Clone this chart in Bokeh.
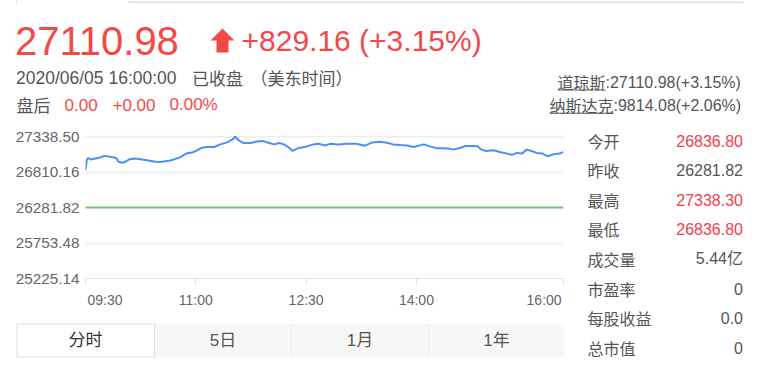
from bokeh.plotting import figure
from bokeh.layouts import column, row
from bokeh.models import FixedTicker, NumeralTickFormatter, Range1d, Span
from bokeh.core.properties import value
from bokeh.embed import file_html
from bokeh.resources import INLINE

# ---------------- data ----------------
minutes = [0, 1, 2, 4, 8, 12, 15, 18, 21, 25, 27, 30, 33, 36, 40, 45, 50, 56, 60, 64,
           68, 72, 78, 82, 87, 91, 95, 99, 105, 110, 116, 120, 122, 125, 129, 135, 140, 145, 150, 154,
           158, 162, 166, 169, 173, 175, 179, 186, 190, 196, 200, 206, 213, 221, 228, 234, 240, 246, 251, 257,
           262, 268, 276, 281, 287, 292, 297, 300, 306, 310, 316, 320, 323, 327, 333, 338, 344, 348, 352, 356,
           360, 364, 368, 373, 377, 382, 387, 390]
prices = [26836.8, 26986, 27020, 26996, 27011, 27025, 27050, 27045, 27035, 27020,
          26962, 26947, 26967, 27001, 27011, 27001, 26986, 26967, 26957, 26967,
          26976, 26996, 27035, 27084, 27099, 27133, 27172, 27182, 27182, 27221,
          27255, 27294, 27338.3, 27280, 27241, 27241, 27265, 27270, 27241, 27221,
          27241, 27221, 27172, 27123, 27162, 27172, 27182, 27221, 27231, 27206,
          27231, 27221, 27231, 27231, 27202, 27250, 27260, 27246, 27221, 27211,
          27206, 27182, 27221, 27192, 27162, 27162, 27158, 27143, 27172, 27197,
          27197, 27192, 27143, 27123, 27133, 27109, 27084, 27065, 27094, 27084,
          27143, 27123, 27094, 27084, 27045, 27074, 27084, 27110.98]
prev_close = 26281.82
y_ticks = [25225.14, 25753.48, 26281.82, 26810.16, 27338.50]
x_ticks = [0, 90, 180, 270, 390]
x_labels = ["09:30", "11:00", "12:30", "14:00", "16:00"]

last_price = "27110.98"
change_text = "+829.16 (+3.15%)"
time_text = "2020/06/05 16:00:00"
status_text = "已收盘"
zone_text = "（美东时间）"
after_label = "盘后"
after_values = ["0.00", "+0.00", "0.00%"]
idx_names = ["道琼斯", "纳斯达克"]
idx_values = [":27110.98(+3.15%)", ":9814.08(+2.06%)"]
stat_names = ["今开", "昨收", "最高", "最低", "成交量", "市盈率", "每股收益", "总市值"]
stat_values = ["26836.80", "26281.82", "27338.30", "26836.80", "5.44亿", "0", "0.0", "0"]
stat_red = [True, False, True, True, False, False, False, False]
tabs = ["分时", "5日", "1月", "1年"]

# ---------------- style ----------------
W, H = 775, 376
RED = "#f34848"
RED2 = "#f3404c"
GRAY = "#555555"
AX = "#666666"
FONT = "'Liberation Sans', 'Noto Sans CJK SC', sans-serif"
CJK = "'Noto Sans CJK SC', sans-serif"

HEAD_H = 125           # header strip height
CH_W, CH_H = 565, 190  # chart figure
TAB_H = H - HEAD_H - CH_H
ST_W = W - CH_W


def panel(w, h):
    f = figure(width=w, height=h, output_backend="svg", toolbar_location=None,
               x_range=Range1d(0, w), y_range=Range1d(h, 0),
               min_border=0, min_border_left=0, min_border_right=0,
               min_border_top=0, min_border_bottom=0)
    f.axis.visible = False
    f.grid.visible = False
    f.outline_line_color = None
    f.background_fill_color = "white"
    f.border_fill_color = "white"
    return f


class Canvas:
    def __init__(self, fig, ox, oy):
        self.f, self.ox, self.oy = fig, ox, oy

    def text(self, t, cx, cy, size, color, align="left", font=FONT):
        self.f.text(x=[cx - self.ox], y=[cy - self.oy], text=[t],
                    text_font=value(font), text_font_size=value(f"{size}px"),
                    text_color=color, text_align=align, text_baseline="middle")

    def box(self, x0, x1, y0, y1, fill, line=None):
        self.f.quad(left=[x0 - self.ox], right=[x1 - self.ox], top=[y0 - self.oy],
                    bottom=[y1 - self.oy], fill_color=fill, line_color=line, line_width=1)

    def poly(self, xs, ys, fill):
        self.f.patch([v - self.ox for v in xs], [v - self.oy for v in ys],
                     fill_color=fill, line_color=None)


# ---------------- header ----------------
head = panel(W, HEAD_H)
hc = Canvas(head, 0, 0)
hc.box(127.5, 743, 1, 2.5, "#dddddd")
hc.box(15.5, 16.5, 0, 2.5, "#dddddd")
hc.box(127.5, 128.5, 0, 2.5, "#dddddd")

hc.text(last_price, 14.5, 40.5, 40, RED)
hc.poly([210, 222, 234, 228, 228, 216, 216], [40, 28, 40, 40, 52, 52, 40], RED)
hc.text(change_text, 241, 39.5, 30, RED)
hc.text(time_text, 15.5, 77, 17.5, GRAY)
hc.text(status_text, 191.5, 77, 17, GRAY, font=CJK)
hc.text(zone_text, 250, 77, 17, GRAY, font=CJK)
hc.text(after_label, 16, 104, 17, GRAY, font=CJK)
for t, x0 in zip(after_values, [64, 112, 169]):
    hc.text(t, x0, 104, 17, RED)

for i, (nm, vv) in enumerate(zip(idx_names, idx_values)):
    mid = 81.5 + 23.3 * i
    x_name = 557 if i == 0 else 549
    x_val = x_name + 16 * len(nm)
    hc.text(nm, x_name, mid, 16, GRAY, font=CJK)
    hc.text(vv, x_val, mid, 16, GRAY)
    hc.box(x_name, x_val, mid + 7.5, mid + 8.5, GRAY)

# ---------------- chart ----------------
FT, FB, FL, FR = 135, 278, 85, 563
span_per_px = (y_ticks[-1] - y_ticks[0]) / (FB - FT - 1)
p = figure(width=CH_W, height=CH_H, output_backend="svg", toolbar_location=None,
           x_range=Range1d(0, 390),
           y_range=Range1d(y_ticks[0], y_ticks[-1] + span_per_px),
           min_border_left=FL, min_border_right=CH_W - FR,
           min_border_top=FT - HEAD_H, min_border_bottom=HEAD_H + CH_H - FB)
p.outline_line_color = None
p.background_fill_color = "white"
p.border_fill_color = "white"

overrides = {t: l for t, l in zip(x_ticks, x_labels)}
overrides[x_ticks[0]] = "\u00a0" * 10 + x_labels[0]
overrides[x_ticks[-1]] = x_labels[-1] + "\u00a0"
p.xaxis.ticker = FixedTicker(ticks=x_ticks)
p.xaxis.major_label_overrides = overrides
p.xaxis.axis_line_color = "#e4e4e4"
p.xaxis.major_tick_line_color = "#dddddd"
p.xaxis.major_tick_in = 0
p.xaxis.major_tick_out = 6
p.xaxis.minor_tick_line_color = None
p.xaxis.major_label_standoff = 7
p.xaxis.major_label_text_font = FONT
p.xaxis.major_label_text_font_size = "14px"
p.xaxis.major_label_text_color = AX

p.yaxis.ticker = FixedTicker(ticks=y_ticks)
p.yaxis.formatter = NumeralTickFormatter(format="0.00")
p.yaxis.axis_line_color = None
p.yaxis.major_tick_line_color = None
p.yaxis.minor_tick_line_color = None
p.yaxis.major_tick_in = 0
p.yaxis.major_tick_out = 0
p.yaxis.major_label_standoff = 6
p.yaxis.major_label_text_font = FONT
p.yaxis.major_label_text_font_size = "15.3px"
p.yaxis.major_label_text_color = AX

p.xgrid.visible = False
p.ygrid.grid_line_color = "#eeeeee"
p.ygrid.grid_line_width = 2

p.add_layout(Span(location=prev_close, dimension="width", line_color="#79c479", line_width=2))
p.line(minutes, prices, line_color="#4b90f8", line_width=2)

# ---------------- tabs ----------------
tabf = panel(CH_W, TAB_H)
tc = Canvas(tabf, 0, HEAD_H + CH_H)
tc.box(154, 564, 323, 357, "#f7f7f7")
tc.box(290.5, 291.5, 323, 357, "#ebebeb")
tc.box(427.5, 428.5, 323, 357, "#ebebeb")
tc.box(16.5, 154, 323.5, 356.5, "white", "#dddddd")
for i, (t, cx) in enumerate(zip(tabs, [85, 222.5, 359.5, 496])):
    tc.text(t, cx, 340, 17, "#333333" if i == 0 else GRAY, align="center")

# ---------------- stats ----------------
stf = panel(ST_W, H - HEAD_H)
sc = Canvas(stf, CH_W, HEAD_H)
for i, (nm, vv, red) in enumerate(zip(stat_names, stat_values, stat_red)):
    cy = 140 + 29.6 * i
    sc.text(nm, 587, cy, 16, GRAY, font=CJK)
    sc.text(vv, 742.5, cy, 16, RED2 if red else GRAY, align="right")

left_col = column(row(p), row(tabf), spacing=0)
layout = column(head, row(left_col, stf, spacing=0), spacing=0)
open("out.html", "w").write(file_html(layout, INLINE))
